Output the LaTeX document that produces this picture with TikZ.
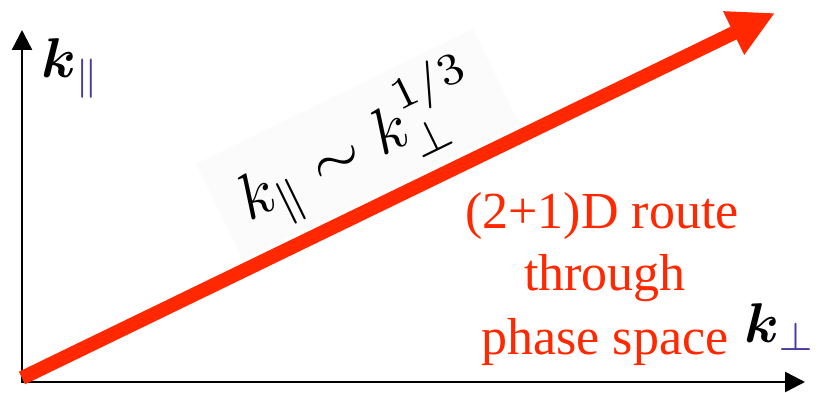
\documentclass[tikz,border=0pt]{standalone}
\usepackage{amsmath}
\usepackage{fontspec}
\newfontfamily\redfont{Liberation Serif}
\usetikzlibrary{arrows.meta}
\definecolor{routered}{RGB}{255,40,0}
\definecolor{subcol}{RGB}{70,60,160}
\definecolor{boxgray}{RGB}{251,251,251}
\tikzset{
  axisline/.style={line width=2.5pt, black, -{Triangle[length=20pt,width=20pt]}},
  routeline/.style={line width=14pt, routered, -{Triangle[length=46pt,width=45pt]}},
  routetext/.style={text=routered, font=\redfont\fontsize{52}{63}\selectfont, anchor=base, inner sep=0pt},
  axislabel/.style={scale=5.6, anchor=base west, inner sep=0pt},
  lawbox/.style={fill=boxgray, rotate=26, scale=6.4, anchor=base west, inner xsep=3.5pt, inner ysep=1.3pt}
}
\begin{document}
\begin{tikzpicture}[x=1pt,y=-1pt]
\useasboundingbox (0,0) rectangle (821,393);
\coordinate (O) at (22,382);
\coordinate (ytip) at (22,30);
\coordinate (xtip) at (805,382);
\coordinate (rstart) at (22,378);
\coordinate (rtip) at (775,13);
% formula in a faint box
\node[lawbox] (law) at (228,232) {$k_{\parallel}\sim k_{\perp}^{1/3}$};
% axes
\draw[axisline] ([yshift=1pt]O) -- (ytip);
\draw[axisline] ([xshift=-1pt]O) -- (xtip);
% route arrow
\draw[routeline] (rstart) -- (rtip);
% axis labels
\node[axislabel] (kpar) at (40,78) {$\boldsymbol{k}_{\color{subcol}\parallel}$};
\node[axislabel] (kperp) at (743,342) {$\boldsymbol{k}_{\color{subcol}\perp}$};
% route text
\node[routetext] (r1) at (602,228) {(2+1)D route};
\node[routetext] (r2) at (605,290) {through};
\node[routetext] (r3) at (605,354) {phase space};
\end{tikzpicture}
\end{document}
